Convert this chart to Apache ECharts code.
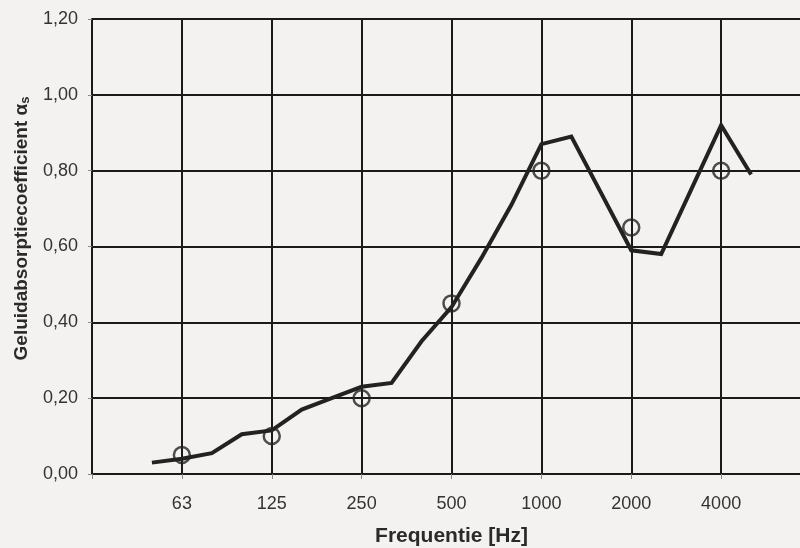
<!DOCTYPE html>
<html>
<head>
<meta charset="utf-8">
<script src="https://cdn.jsdelivr.net/npm/echarts@6/dist/echarts.min.js"></script>
<style>
  html, body { margin: 0; padding: 0; background: #f3f2f0; }
  #chart { width: 800px; height: 548px; }
</style>
</head>
<body>
<div id="chart"></div>
<script>
// terts-banden (1/3 octaaf), gemeten lijn
var tertsBanden = ['50', '63', '80', '100', '125', '160', '200', '250', '315', '400', '500',
    '630', '800', '1000', '1250', '1600', '2000', '2500', '3150', '4000', '5000'];
var tertsWaarden = [0.03, 0.04, 0.055, 0.105, 0.115, 0.17, 0.20, 0.23, 0.24, 0.35, 0.44,
    0.57, 0.71, 0.87, 0.89, 0.74, 0.59, 0.58, 0.75, 0.92, 0.79];

// octaafbanden, rondjes
var octaafBanden = ['63', '125', '250', '500', '1000', '2000', '4000'];
var octaafWaarden = [0.05, 0.10, 0.20, 0.45, 0.80, 0.65, 0.80];

// as-labels
var xTickLabels = ['', '63', '125', '250', '500', '1000', '2000', '4000', ''];
var yTicks = [0, 0.2, 0.4, 0.6, 0.8, 1.0, 1.2];

var chart = echarts.init(document.getElementById('chart'));

// positie op de as: 1 eenheid = 1 octaaf, 63 Hz = 1
var lijnData = tertsWaarden.map(function (v, i) {
    return [(i + 2) / 3, v];
});
var rondjeData = octaafWaarden.map(function (v, i) {
    return [xTickLabels.indexOf(octaafBanden[i]), v];
});

var option = {
    backgroundColor: '#f3f2f0',
    animation: false,
    grid: {
        left: 92,
        top: 19,
        width: 719,
        height: 455,
        outerBoundsMode: 'none',
        containLabel: false
    },
    xAxis: {
        type: 'value',
        min: 0,
        max: 8,
        interval: 1,
        name: 'Frequentie [Hz]',
        nameLocation: 'middle',
        nameGap: 52,
        nameTextStyle: { fontFamily: 'Liberation Sans', fontSize: 21, fontWeight: 'bold', color: '#2a2a2a' },
        axisLine: { show: true, onZero: false, lineStyle: { color: '#1a1a1a', width: 2 } },
        axisTick: { show: true, length: 5, lineStyle: { color: '#888', width: 1 } },
        axisLabel: {
            margin: 21,
            fontFamily: 'Liberation Sans',
            fontSize: 18,
            color: '#333',
            formatter: function (v) { return xTickLabels[Math.round(v)] || ''; }
        },
        splitLine: { show: true, lineStyle: { color: '#1a1a1a', width: 2 } }
    },
    yAxis: {
        type: 'value',
        min: yTicks[0],
        max: yTicks[yTicks.length - 1],
        interval: 0.2,
        name: '{a|Geluidabsorptiecoefficient α}{s|s}',
        nameLocation: 'middle',
        nameGap: 60,
        nameRotate: 90,
        nameTextStyle: {
            padding: [0, 0, 0, 36],
            rich: {
                a: { fontFamily: 'Liberation Sans', fontSize: 19, fontWeight: 'bold', color: '#2a2a2a' },
                s: { fontFamily: 'Liberation Sans', fontSize: 13, fontWeight: 'bold', color: '#2a2a2a', verticalAlign: 'bottom', padding: [7, 0, 0, 0] }
            }
        },
        axisLine: { show: true, lineStyle: { color: '#1a1a1a', width: 2 } },
        axisTick: { show: true, length: 4, lineStyle: { color: '#888', width: 1 } },
        axisLabel: {
            margin: 14,
            fontFamily: 'Liberation Sans',
            fontSize: 18,
            color: '#333',
            formatter: function (v) { return v.toFixed(2).replace('.', ','); }
        },
        splitLine: { show: true, lineStyle: { color: '#1a1a1a', width: 2 } }
    },
    series: [{
        name: 'tertsband',
        type: 'line',
        data: lijnData,
        showSymbol: false,
        symbol: 'none',
        lineStyle: { color: '#222', width: 4, join: 'miter' },
        z: 3
    }, {
        name: 'octaafband',
        type: 'scatter',
        data: rondjeData,
        symbol: 'circle',
        symbolSize: 16,
        itemStyle: { color: 'rgba(0,0,0,0)', borderColor: '#222', borderWidth: 2.5 },
        z: 4
    }]
};

chart.setOption(option);
</script>
</body>
</html>
